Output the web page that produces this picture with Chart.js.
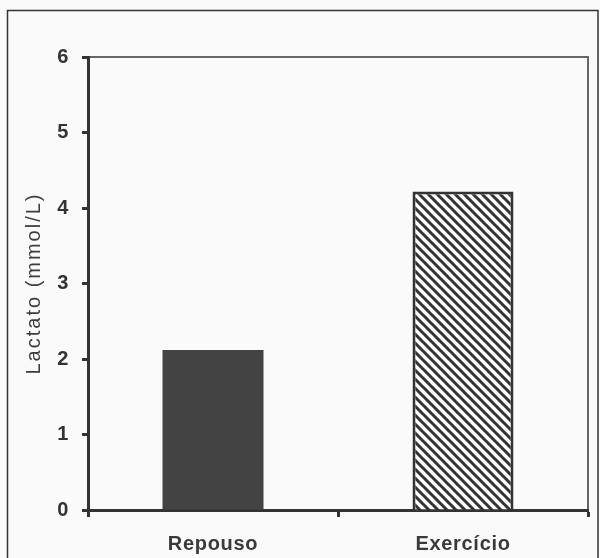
<!DOCTYPE html>
<html>
<head>
<meta charset="utf-8">
<script src="https://cdn.jsdelivr.net/npm/chart.js@4.4.1/dist/chart.umd.min.js"></script>
<style>
  html, body { margin: 0; padding: 0; background: #fafafa; }
  #wrap { width: 600px; height: 558px; }
</style>
</head>
<body>
<div id="wrap"><canvas id="c"></canvas></div>
<script>
const categories = ["Repouso", "Exercício"];
const lactate = [2.12, 4.22];
const yTicks = [0, 1, 2, 3, 4, 5, 6];

// diagonal hatch for the exercise bar
function hatch() {
  const s = 9;
  const p = document.createElement("canvas");
  p.width = s; p.height = s;
  const g = p.getContext("2d");
  g.fillStyle = "#ffffff";
  g.fillRect(0, 0, s, s);
  g.strokeStyle = "#333333";
  g.lineWidth = 3;
  g.beginPath();
  g.moveTo(-2, -2); g.lineTo(s + 2, s + 2);
  g.moveTo(-2, s - 2); g.lineTo(2, s + 2);
  g.moveTo(s - 2, -2); g.lineTo(s + 2, 2);
  g.stroke();
  return g.createPattern(p, "repeat");
}

const frame = {
  id: "frame",
  beforeDraw(chart) {
    const ctx = chart.ctx;
    ctx.save();
    ctx.fillStyle = "#fafafa";
    ctx.fillRect(0, 0, chart.width, chart.height);
    ctx.strokeStyle = "#333";
    ctx.lineWidth = 1.5;
    ctx.strokeRect(7.5, 10.5, 590.5, 560);
    const a = chart.chartArea;
    ctx.strokeStyle = "#666";
    ctx.lineWidth = 2;
    ctx.beginPath();
    ctx.moveTo(a.left, a.top);
    ctx.lineTo(a.right, a.top);
    ctx.lineTo(a.right, a.bottom);
    ctx.stroke();
    ctx.restore();
    ctx.letterSpacing = "0.7px";
    // the axis title is set with wide spacing
    const y = chart.scales.y;
    if (!y._spaced) {
      const orig = y.drawTitle;
      y.drawTitle = function () {
        const c = this.ctx;
        const prev = c.letterSpacing;
        c.letterSpacing = "2px";
        orig.apply(this, arguments);
        c.letterSpacing = prev;
      };
      y._spaced = true;
    }
  }
};

new Chart(document.getElementById("c"), {
  type: "bar",
  data: {
    labels: categories,
    datasets: [{
      data: lactate,
      backgroundColor: ["#434343", hatch()],
      borderColor: "#333",
      borderWidth: [0, 3],
      categoryPercentage: 1,
      barPercentage: 0.404
    }]
  },
  options: {
    responsive: true,
    maintainAspectRatio: false,
    animation: false,
    devicePixelRatio: 1,
    layout: { padding: { left: 0, top: 57, right: 12, bottom: 0 } },
    plugins: { legend: { display: false }, tooltip: { enabled: false } },
    scales: {
      x: {
        offset: true,
        grid: { offset: true, drawOnChartArea: false, drawTicks: true, tickLength: 7, tickWidth: 3, tickColor: "#333" },
        border: { display: true, color: "#333", width: 3 },
        ticks: { color: "#3a3a3a", padding: 15, font: { family: "Liberation Sans, Arial", size: 20, weight: "bold" } },
        afterFit(s) { s.height = 48; }
      },
      y: {
        min: 0,
        max: 6,
        afterBuildTicks(s) { s.ticks = yTicks.map(v => ({ value: v })); },
        grid: { drawOnChartArea: false, drawTicks: true, tickLength: 6, tickWidth: 3, tickColor: "#333" },
        border: { display: true, color: "#333", width: 3 },
        ticks: { color: "#333", padding: 13, font: { family: "Liberation Sans, Arial", size: 20, weight: "bold" } },
        title: {
          display: true,
          text: "Lactato (mmol/L)",
          color: "#3d3d3d",
          padding: { top: 22, bottom: 0 },
          font: { family: "Liberation Sans, Arial", size: 20 }
        },
        afterFit(s) { s.width = 88; }
      }
    }
  },
  plugins: [frame]
});
</script>
</body>
</html>
